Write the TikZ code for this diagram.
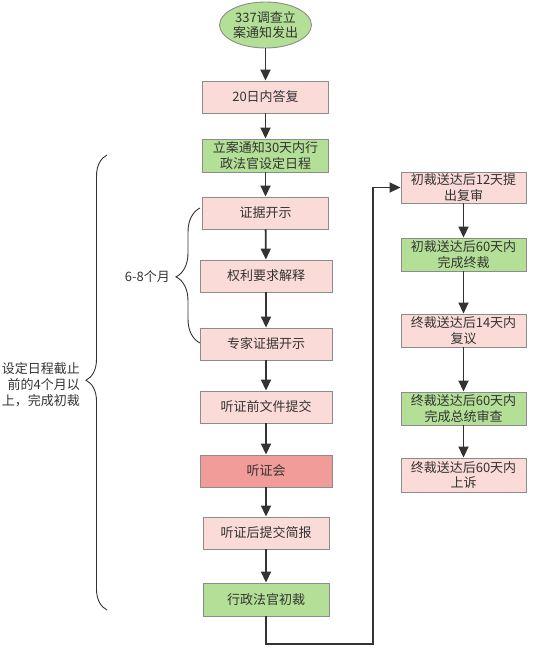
\documentclass[tikz,border=0pt]{standalone}
\usepackage{fontspec}
\setmainfont{Noto Sans CJK SC}
\usetikzlibrary{arrows.meta,decorations.pathreplacing,shapes.geometric}
\definecolor{pinkf}{HTML}{FADBD8}
\definecolor{greenf}{HTML}{B3E096}
\definecolor{redf}{HTML}{F19C99}
\definecolor{bord}{HTML}{8C8C8C}
\definecolor{lin}{HTML}{333333}
\definecolor{txt}{HTML}{333333}
\tikzset{
  box/.style={draw=bord, line width=0.9pt, minimum height=32pt, inner sep=1pt, align=center, text=txt,
    font=\fontsize{13pt}{15.5pt}\selectfont},
  pbox/.style={box, fill=pinkf},
  gbox/.style={box, fill=greenf},
  rbox/.style={box, fill=redf},
  arr/.style={draw=lin, line width=1.8pt, -{Triangle[length=11pt,width=10pt]}},
  brc/.style={draw=lin, line width=0.9pt, decorate},
  lbl/.style={text=txt, align=right, font=\fontsize{13pt}{16pt}\selectfont, inner sep=0pt}
}
\begin{document}
\begin{tikzpicture}[x=1pt,y=-1pt]
\useasboundingbox (0,0) rectangle (541,658);
% main column
\node[draw=bord, line width=0.9pt, fill=greenf, ellipse, minimum width=87pt, minimum height=46pt, inner sep=0pt, align=center, text=txt, font=\fontsize{13pt}{15.5pt}\selectfont] (start) at (265.5,25) {337调查立\\案通知发出};
\node[pbox, minimum width=126pt] (a20) at (265.5,97) {20日内答复};
\node[gbox, minimum width=126pt, minimum height=33pt] (lian) at (265.5,155.5) {立案通知30天内行\\政法官设定日程};
\node[pbox, minimum width=126pt] (zj) at (265.5,213) {证据开示};
\node[pbox, minimum width=132pt] (ql) at (266,276) {权利要求解释};
\node[pbox, minimum width=132pt] (zjzj) at (266,344) {专家证据开示};
\node[pbox, minimum width=132pt] (tzq) at (266,407) {听证前文件提交};
\node[rbox, minimum width=132pt] (tzh) at (266,471) {听证会};
\node[pbox, minimum width=126pt] (tzhh) at (266,533) {听证后提交简报};
\node[gbox, minimum width=126pt, minimum height=33pt] (cc) at (266,599.5) {行政法官初裁};
% right column
\node[pbox, minimum width=125pt, minimum height=31pt] (r1) at (463.5,187.5) {初裁送达后12天提\\出复审};
\node[gbox, minimum width=125pt, minimum height=33pt] (r2) at (463.5,254.5) {初裁送达后60天内\\完成终裁};
\node[pbox, minimum width=125pt, minimum height=33pt] (r3) at (463.5,330.5) {终裁送达后14天内\\复议};
\node[gbox, minimum width=125pt, minimum height=33pt] (r4) at (463.5,408.5) {终裁送达后60天内\\完成总统审查};
\node[pbox, minimum width=125pt, minimum height=34pt] (r5) at (463.5,475) {终裁送达后60天内\\上诉};
% connectors
\draw[arr] (start) -- (a20);
\draw[arr] (a20) -- (lian);
\draw[arr] (lian) -- (zj);
\draw[arr] (zj) -- (ql);
\draw[arr] (ql) -- (zjzj);
\draw[arr] (zjzj) -- (tzq);
\draw[arr] (tzq) -- (tzh);
\draw[arr] (tzh) -- (tzhh);
\draw[arr] (tzhh) -- (cc);
\coordinate (turn) at (373,644);
\draw[arr] (cc.south) |- (turn) |- (r1.west);
\draw[arr] (r1) -- (r2);
\draw[arr] (r2) -- (r3);
\draw[arr] (r3) -- (r4);
\draw[arr] (r4) -- (r5);
% braces
\coordinate (bb1) at (107,610);
\coordinate (bb2) at (107,155);
\draw[brc, decoration={brace, amplitude=21pt, aspect=0.505}] (bb1) -- (bb2);
\coordinate (sb1) at (200,343);
\coordinate (sb2) at (200,208);
\draw[brc, decoration={brace, amplitude=24pt, aspect=0.49}] (sb1) -- (sb2);
\node[lbl, anchor=east] (lbig) at (80,385) {设定日程截止\\前的4个月以\\上，完成初裁};
\node[lbl, anchor=east] (lsmall) at (170,277) {6-8个月};
\end{tikzpicture}
\end{document}
